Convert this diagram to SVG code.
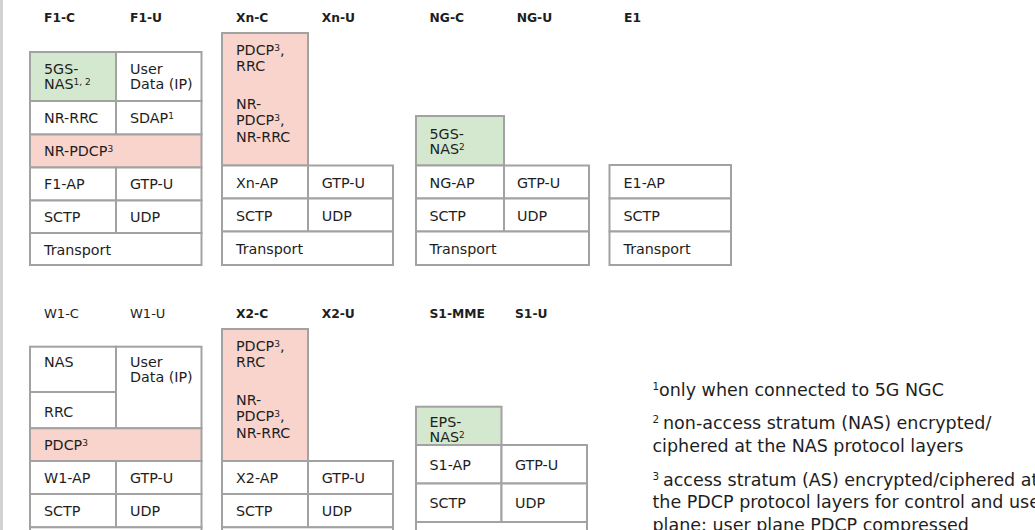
<svg xmlns="http://www.w3.org/2000/svg" width="1035" height="530" viewBox="0 0 1035 530">
  <style>
    .c { fill: #ffffff; stroke: #a2a2a2; stroke-width: 2; }
    .nas { fill: #d3e8cf; }
    .pdcp { fill: #f9d4cc; }
    text { font-family: "DejaVu Sans", "Liberation Sans", sans-serif; fill: #1e1e1e; }
    .t { font-size: 14.3px; }
    .h { font-size: 12.3px; font-weight: bold; }
    .hr { font-size: 13px; }
    .sup { font-size: 9px; }
    .fn { font-size: 17.5px; }
    .fsup { font-size: 10.4px; }
  </style>

  <rect x="0" y="0" width="3" height="530" fill="#d2d2d2"/>

  <!-- column headings, upper row -->
  <g id="headings-top">
    <text class="h" x="44" y="22">F1-C</text>
    <text class="h" x="130" y="22">F1-U</text>
    <text class="h" x="236" y="22">Xn-C</text>
    <text class="h" x="321.7" y="22">Xn-U</text>
    <text class="h" x="429.5" y="22">NG-C</text>
    <text class="h" x="516.7" y="22">NG-U</text>
    <text class="h" x="624" y="22">E1</text>
  </g>

  <!-- F1 stack -->
  <g id="f1">
    <g id="f1-nas"><rect class="c nas" x="30" y="52" width="86" height="49"/>
      <text class="t" x="44" y="73.5">5GS-</text>
      <text class="t" x="44" y="88.5">NAS<tspan class="sup" dy="-4">1, 2</tspan></text></g>
    <g id="f1-userdata"><rect class="c" x="116" y="52" width="85.5" height="49"/>
      <text class="t" x="130" y="73.5">User</text>
      <text class="t" x="130" y="88.5">Data (IP)</text></g>
    <g id="f1-rrc"><rect class="c" x="30" y="101" width="86" height="33.5"/>
      <text class="t" x="44" y="123">NR-RRC</text></g>
    <g id="f1-sdap"><rect class="c" x="116" y="101" width="85.5" height="33.5"/>
      <text class="t" x="130" y="123">SDAP<tspan class="sup" dy="-4">1</tspan></text></g>
    <g id="f1-pdcp"><rect class="c pdcp" x="30" y="134.5" width="171.5" height="33"/>
      <text class="t" x="44" y="156">NR-PDCP<tspan class="sup" dy="-4">3</tspan></text></g>
    <g id="f1-ap"><rect class="c" x="30" y="167.5" width="86" height="33"/>
      <text class="t" x="44" y="189">F1-AP</text></g>
    <g id="f1-gtpu"><rect class="c" x="116" y="167.5" width="85.5" height="33"/>
      <text class="t" x="130" y="189">GTP-U</text></g>
    <g id="f1-sctp"><rect class="c" x="30" y="200.5" width="86" height="32.5"/>
      <text class="t" x="44" y="222">SCTP</text></g>
    <g id="f1-udp"><rect class="c" x="116" y="200.5" width="85.5" height="32.5"/>
      <text class="t" x="130" y="222">UDP</text></g>
    <g id="f1-transport"><rect class="c" x="30" y="233" width="171.5" height="32"/>
      <text class="t" x="44" y="254.5">Transport</text></g>
  </g>

  <!-- Xn stack -->
  <g id="xn">
    <g id="xn-pdcp-rrc"><rect class="c pdcp" x="222" y="33" width="86" height="132.5"/>
      <text class="t" x="236" y="54.5">PDCP<tspan class="sup" dy="-4">3</tspan><tspan dy="4">,</tspan></text>
      <text class="t" x="236" y="71">RRC</text>
      <text class="t" x="236" y="108.5">NR-</text>
      <text class="t" x="236" y="125">PDCP<tspan class="sup" dy="-4">3</tspan><tspan dy="4">,</tspan></text>
      <text class="t" x="236" y="141.5">NR-RRC</text></g>
    <g id="xn-ap"><rect class="c" x="222" y="165.5" width="86" height="33"/>
      <text class="t" x="236" y="187.5">Xn-AP</text></g>
    <g id="xn-gtpu"><rect class="c" x="308" y="165.5" width="85" height="33"/>
      <text class="t" x="321.7" y="187.5">GTP-U</text></g>
    <g id="xn-sctp"><rect class="c" x="222" y="198.5" width="86" height="33"/>
      <text class="t" x="236" y="220.5">SCTP</text></g>
    <g id="xn-udp"><rect class="c" x="308" y="198.5" width="85" height="33"/>
      <text class="t" x="321.7" y="220.5">UDP</text></g>
    <g id="xn-transport"><rect class="c" x="222" y="231.5" width="171" height="33.5"/>
      <text class="t" x="236" y="253.5">Transport</text></g>
  </g>

  <!-- NG stack -->
  <g id="ng">
    <g id="ng-nas"><rect class="c nas" x="416" y="116" width="88" height="49.5"/>
      <text class="t" x="429.5" y="138.5">5GS-</text>
      <text class="t" x="429.5" y="153.5">NAS<tspan class="sup" dy="-4">2</tspan></text></g>
    <g id="ng-ap"><rect class="c" x="416" y="165.5" width="88" height="33"/>
      <text class="t" x="429.5" y="187.5">NG-AP</text></g>
    <g id="ng-gtpu"><rect class="c" x="504" y="165.5" width="85" height="33"/>
      <text class="t" x="517" y="187.5">GTP-U</text></g>
    <g id="ng-sctp"><rect class="c" x="416" y="198.5" width="88" height="33"/>
      <text class="t" x="429.5" y="220.5">SCTP</text></g>
    <g id="ng-udp"><rect class="c" x="504" y="198.5" width="85" height="33"/>
      <text class="t" x="517" y="220.5">UDP</text></g>
    <g id="ng-transport"><rect class="c" x="416" y="231.5" width="173" height="33.5"/>
      <text class="t" x="429.5" y="253.5">Transport</text></g>
  </g>

  <!-- E1 stack -->
  <g id="e1">
    <g id="e1-ap"><rect class="c" x="609.5" y="165" width="121.5" height="33.5"/>
      <text class="t" x="623.5" y="187.5">E1-AP</text></g>
    <g id="e1-sctp"><rect class="c" x="609.5" y="198.5" width="121.5" height="33"/>
      <text class="t" x="623.5" y="220.5">SCTP</text></g>
    <g id="e1-transport"><rect class="c" x="609.5" y="231.5" width="121.5" height="33.5"/>
      <text class="t" x="623.5" y="253.5">Transport</text></g>
  </g>

  <!-- column headings, lower row -->
  <g id="headings-bottom">
    <text class="hr" x="44" y="318.3">W1-C</text>
    <text class="hr" x="130" y="318.3">W1-U</text>
    <text class="h" x="236" y="318.3">X2-C</text>
    <text class="h" x="321.7" y="318.3">X2-U</text>
    <text class="h" x="429.5" y="318.3">S1-MME</text>
    <text class="h" x="515" y="318.3">S1-U</text>
  </g>

  <!-- W1 stack -->
  <g id="w1">
    <g id="w1-nas"><rect class="c" x="30" y="346.7" width="86" height="45.3"/>
      <text class="t" x="44" y="367.3">NAS</text></g>
    <g id="w1-userdata"><rect class="c" x="116" y="346.7" width="85.5" height="81.6"/>
      <text class="t" x="130" y="367.3">User</text>
      <text class="t" x="130" y="382.3">Data (IP)</text></g>
    <g id="w1-rrc"><rect class="c" x="30" y="392" width="86" height="36.3"/>
      <text class="t" x="44" y="416.5">RRC</text></g>
    <g id="w1-pdcp"><rect class="c pdcp" x="30" y="428.3" width="171.5" height="32.7"/>
      <text class="t" x="44" y="450">PDCP<tspan class="sup" dy="-4">3</tspan></text></g>
    <g id="w1-ap"><rect class="c" x="30" y="461" width="86" height="33"/>
      <text class="t" x="44" y="482.8">W1-AP</text></g>
    <g id="w1-gtpu"><rect class="c" x="116" y="461" width="85.5" height="33"/>
      <text class="t" x="130" y="482.8">GTP-U</text></g>
    <g id="w1-sctp"><rect class="c" x="30" y="494" width="86" height="33.3"/>
      <text class="t" x="44" y="516">SCTP</text></g>
    <g id="w1-udp"><rect class="c" x="116" y="494" width="85.5" height="33.3"/>
      <text class="t" x="130" y="516">UDP</text></g>
    <g id="w1-transport"><rect class="c" x="30" y="527.3" width="171.5" height="35"/></g>
  </g>

  <!-- X2 stack -->
  <g id="x2">
    <g id="x2-pdcp-rrc"><rect class="c pdcp" x="222" y="329" width="86" height="132"/>
      <text class="t" x="236" y="350.5">PDCP<tspan class="sup" dy="-4">3</tspan><tspan dy="4">,</tspan></text>
      <text class="t" x="236" y="367">RRC</text>
      <text class="t" x="236" y="404.5">NR-</text>
      <text class="t" x="236" y="421">PDCP<tspan class="sup" dy="-4">3</tspan><tspan dy="4">,</tspan></text>
      <text class="t" x="236" y="437.5">NR-RRC</text></g>
    <g id="x2-ap"><rect class="c" x="222" y="461" width="86" height="33"/>
      <text class="t" x="236" y="482.8">X2-AP</text></g>
    <g id="x2-gtpu"><rect class="c" x="308" y="461" width="85" height="33"/>
      <text class="t" x="321.7" y="482.8">GTP-U</text></g>
    <g id="x2-sctp"><rect class="c" x="222" y="494" width="86" height="33.3"/>
      <text class="t" x="236" y="516">SCTP</text></g>
    <g id="x2-udp"><rect class="c" x="308" y="494" width="85" height="33.3"/>
      <text class="t" x="321.7" y="516">UDP</text></g>
    <g id="x2-transport"><rect class="c" x="222" y="527.3" width="171" height="35"/></g>
  </g>

  <!-- S1 stack -->
  <g id="s1">
    <g id="s1-nas"><rect class="c nas" x="416" y="406.7" width="85.5" height="38.3"/>
      <text class="t" x="429.5" y="426.7">EPS-</text>
      <text class="t" x="429.5" y="441.7">NAS<tspan class="sup" dy="-4">2</tspan></text></g>
    <g id="s1-ap"><rect class="c" x="416" y="445" width="85.5" height="38.5"/>
      <text class="t" x="429.5" y="469.5">S1-AP</text></g>
    <g id="s1-gtpu"><rect class="c" x="501.5" y="445" width="85.5" height="38.5"/>
      <text class="t" x="515" y="469.5">GTP-U</text></g>
    <g id="s1-sctp"><rect class="c" x="416" y="483.5" width="85.5" height="38.5"/>
      <text class="t" x="429.5" y="507.5">SCTP</text></g>
    <g id="s1-udp"><rect class="c" x="501.5" y="483.5" width="85.5" height="38.5"/>
      <text class="t" x="515" y="507.5">UDP</text></g>
    <g id="s1-transport"><rect class="c" x="416" y="522" width="171" height="40"/></g>
  </g>

  <g id="connectors"/>

  <!-- footnotes -->
  <g id="footnotes">
    <text class="fn" y="396"><tspan class="fsup" x="652.5" dy="-6.5">1</tspan><tspan x="659" dy="6.5">only when connected to 5G NGC</tspan></text>
    <text class="fn" y="429.3"><tspan class="fsup" x="652.5" dy="-6.5">2</tspan><tspan x="663" dy="6.5">non-access stratum (NAS) encrypted/</tspan></text>
    <text class="fn" x="652.5" y="451.7">ciphered at the NAS protocol layers</text>
    <text class="fn" y="486"><tspan class="fsup" x="652.5" dy="-6.5">3</tspan><tspan x="663" dy="6.5">access stratum (AS) encrypted/ciphered at</tspan></text>
    <text class="fn" x="652.5" y="508.3">the PDCP protocol layers for control and user</text>
    <text class="fn" x="652.5" y="530.8">plane; user plane PDCP compressed</text>
  </g>
</svg>
